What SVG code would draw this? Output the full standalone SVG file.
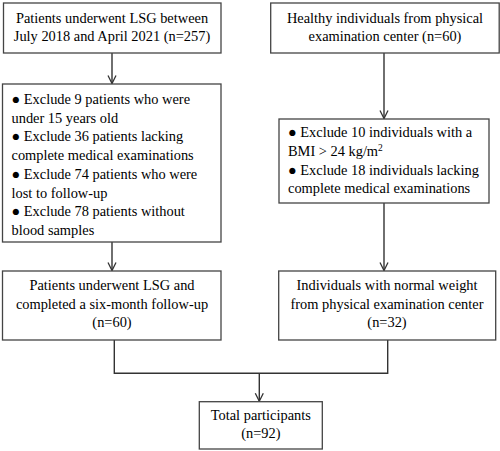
<svg xmlns="http://www.w3.org/2000/svg" width="500" height="451" viewBox="0 0 500 451">
<defs>
<style>
.box{fill:#fff;stroke:#444;stroke-width:1.3}
.t{font-family:"Liberation Serif","Times New Roman",serif;font-size:14.4px;fill:#000}
.c{text-anchor:middle}
.ln{stroke:#333;stroke-width:1.4;fill:none}
</style>
<marker id="ah" viewBox="0 0 10 10" refX="9" refY="5" markerWidth="10" markerHeight="10" markerUnits="userSpaceOnUse" orient="auto">
<path d="M1,1 L9,5 L1,9" fill="none" stroke="#333" stroke-width="1.3"/>
</marker>
</defs>
<rect width="500" height="451" fill="#fff"/>
<g id="connectors">
<line class="ln" x1="112" y1="53" x2="112" y2="83.5" marker-end="url(#ah)"/>
<line class="ln" x1="384" y1="53" x2="384" y2="118.5" marker-end="url(#ah)"/>
<line class="ln" x1="112" y1="242" x2="112" y2="270.5" marker-end="url(#ah)"/>
<line class="ln" x1="384" y1="203" x2="384" y2="270.5" marker-end="url(#ah)"/>
<polyline class="ln" points="114.3,340 114.3,373.3 387.7,373.3 387.7,340"/>
<line class="ln" x1="259.3" y1="373.3" x2="259.3" y2="401.2" marker-end="url(#ah)"/>
</g>
<g id="n1">
<rect class="box" x="3.5" y="3" width="217.5" height="50"/>
<text class="t c" x="112" y="23">Patients underwent LSG between</text>
<text class="t c" x="112" y="41">July 2018 and April 2021 (n=257)</text>
</g>
<g id="n2">
<rect class="box" x="2.5" y="84" width="218.5" height="158"/>
<text class="t" x="11.5" y="104">● Exclude 9 patients who were</text>
<text class="t" x="11.5" y="122.7">under 15 years old</text>
<text class="t" x="11.5" y="141.4">● Exclude 36 patients lacking</text>
<text class="t" x="11.5" y="160.1">complete medical examinations</text>
<text class="t" x="11.5" y="178.8">● Exclude 74 patients who were</text>
<text class="t" x="11.5" y="197.5">lost to follow-up</text>
<text class="t" x="11.5" y="216.2">● Exclude 78 patients without</text>
<text class="t" x="11.5" y="234.9">blood samples</text>
</g>
<g id="n3">
<rect class="box" x="270.7" y="3" width="228.5" height="50"/>
<text class="t c" x="385" y="23">Healthy individuals from physical</text>
<text class="t c" x="385" y="41">examination center (n=60)</text>
</g>
<g id="n4">
<rect class="box" x="279" y="119" width="210" height="84"/>
<text class="t" x="288" y="137.3">● Exclude 10 individuals with a</text>
<text class="t" x="288" y="156">BMI &gt; 24 kg/m<tspan font-size="9.5" dy="-5">2</tspan></text>
<text class="t" x="288" y="174.7">● Exclude 18 individuals lacking</text>
<text class="t" x="288" y="193.4">complete medical examinations</text>
</g>
<g id="n5">
<rect class="box" x="2.5" y="271" width="218.5" height="69"/>
<text class="t c" x="112" y="290">Patients underwent LSG and</text>
<text class="t c" x="112" y="308.7">completed a six-month follow-up</text>
<text class="t c" x="112" y="327.4">(n=60)</text>
</g>
<g id="n6">
<rect class="box" x="278.7" y="271" width="217" height="69"/>
<text class="t c" x="387" y="290">Individuals with normal weight</text>
<text class="t c" x="387" y="308.7">from physical examination center</text>
<text class="t c" x="387" y="327.4">(n=32)</text>
</g>
<g id="n7">
<rect class="box" x="199.3" y="401.7" width="123" height="47.3"/>
<text class="t c" x="260.8" y="420">Total participants</text>
<text class="t c" x="260.8" y="438.3">(n=92)</text>
</g>
</svg>
